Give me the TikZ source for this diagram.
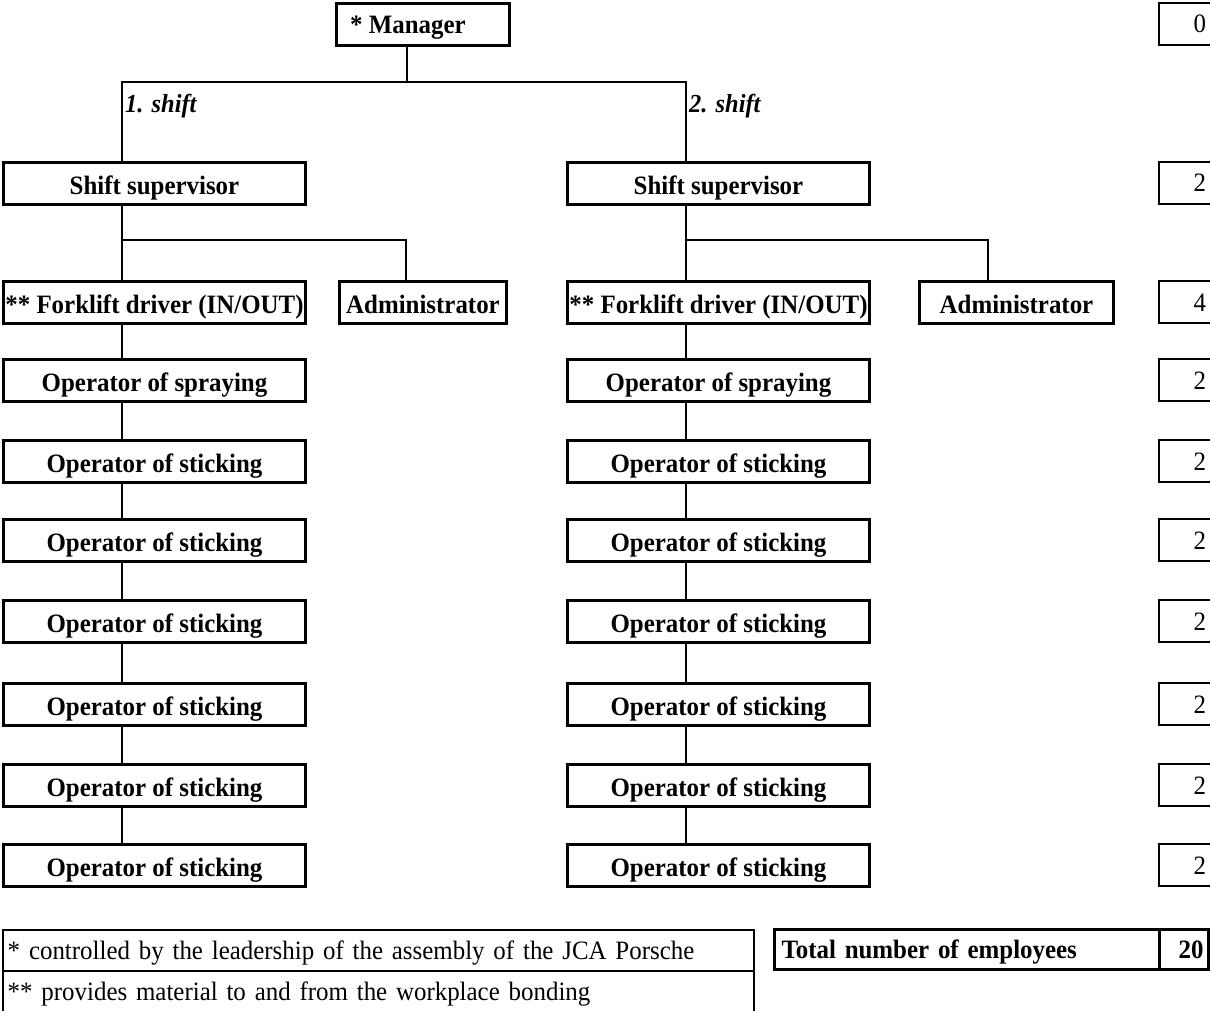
\documentclass[tikz,border=0pt]{standalone}
\usepackage{fontspec}
\setmainfont{Liberation Serif}[FakeStretch=0.94]
\begin{document}
\begin{tikzpicture}[x=1pt,y=-1pt,
  bfnt/.style={font={\fontsize{26.5}{31}\selectfont\bfseries}},
  rfnt/.style={font={\fontsize{26.5}{31}\selectfont}},
  box/.style={draw, line width=3pt, inner sep=0pt, bfnt, text height=21.5pt, text depth=0pt, anchor=north west, minimum height=42pt},
  colL/.style={minimum width=302pt},
  colR/.style={minimum width=302pt},
  numbox/.style={draw, line width=2pt, inner xsep=9pt, inner ysep=0pt, rfnt, text height=18pt, text depth=0pt, anchor=north west, minimum height=42pt, text width=38pt, align=right},
  conn/.style={draw, line width=2pt},
  lbl/.style={inner sep=0pt, font={\fontsize{26}{31}\selectfont\bfseries\itshape}},
  legrow/.style={draw, line width=1.5pt, anchor=north west, minimum height=41pt, text width=741pt, inner xsep=5pt, inner ysep=0pt, align=left, rfnt, text height=18pt, text depth=0pt}
]
\useasboundingbox (0,0) rectangle (1210,1011);
\clip (0,0) rectangle (1210,1011);

% coordinates for connector columns
\coordinate (L) at (122,0);
\coordinate (R) at (686,0);
\coordinate (AL) at (406,0);
\coordinate (AR) at (988,0);
\coordinate (j1) at (407,82);
\coordinate (jL) at (122,240);
\coordinate (jR) at (686,240);

% manager
\node[box, minimum width=173pt] (mgr) at (335,2) {};
\node[inner sep=0pt, bfnt, text height=21.5pt, text depth=0pt] (mgrt) at (408,22.5) {* Manager};
\node[numbox] (n0) at (1158,2) {0};

% shift labels
\node[lbl, anchor=base west] (s1) at (125,113) {1. shift};
\node[lbl, anchor=base west] (s2) at (689,113) {2. shift};

% shift supervisors
\node[box, colL] (ss1) at (2,161) {Shift supervisor};
\node[box, colR] (ss2) at (566,161) {Shift supervisor};
\node[numbox] (nss) at (1158,161) {2};

% forklift / admin
\node[box, colL] (fl1) at (2,280) {** Forklift driver (IN/OUT)};
\node[box, minimum width=167pt] (ad1) at (338,280) {Administrator};
\node[box, colR] (fl2) at (566,280) {** Forklift driver (IN/OUT)};
\node[box, minimum width=194pt] (ad2) at (918,280) {Administrator};
\node[numbox] (nfl) at (1158,280) {4};

% spraying
\node[box, colL] (sp1) at (2,358) {Operator of spraying};
\node[box, colR] (sp2) at (566,358) {Operator of spraying};
\node[numbox] (nsp) at (1158,358) {2};

% sticking rows
\foreach \i/\y in {1/439,2/518,3/599,4/682,5/763,6/843}{
  \node[box, colL] (a\i) at (2,\y) {Operator of sticking};
  \node[box, colR] (b\i) at (566,\y) {Operator of sticking};
  \node[numbox] (n\i) at (1158,\y) {2};
}

% connectors: manager to shift supervisors
\draw[conn] (mgr.south -| j1) -- (j1);
\draw[conn] (ss1.north -| L) -- (L |- j1) -- (R |- j1) -- (ss2.north -| R);

% shift supervisors to forklift and admin
\draw[conn] (ss1.south -| L) -- (fl1.north -| L);
\draw[conn] (jL) -- (AL |- jL) -- (ad1.north -| AL);
\draw[conn] (ss2.south -| R) -- (fl2.north -| R);
\draw[conn] (jR) -- (AR |- jR) -- (ad2.north -| AR);

% chains
\draw[conn] (fl1.south -| L) -- (sp1.north -| L);
\draw[conn] (sp1.south -| L) -- (a1.north -| L);
\draw[conn] (fl2.south -| R) -- (sp2.north -| R);
\draw[conn] (sp2.south -| R) -- (b1.north -| R);
\foreach \i/\j in {1/2,2/3,3/4,4/5,5/6}{
  \draw[conn] (a\i.south -| L) -- (a\j.north -| L);
  \draw[conn] (b\i.south -| R) -- (b\j.north -| R);
}

% legend
\node[legrow] (leg1) at (2,929) {* controlled by the leadership of the assembly of the JCA Porsche};
\node[legrow] (leg2) at (2,970) {** provides material to and from the workplace bonding};

% total
\node[draw, line width=3pt, anchor=north west, minimum height=40pt, text width=371pt, inner xsep=7pt, inner ysep=0pt, align=left, bfnt, text height=18pt, text depth=0pt] (tot1) at (773,928) {Total number of employees};
\node[draw, line width=3pt, anchor=north west, minimum height=40pt, text width=39pt, inner xsep=5pt, inner ysep=0pt, align=right, bfnt, text height=18pt, text depth=0pt] (tot2) at (1158,928) {20};
\end{tikzpicture}
\end{document}
